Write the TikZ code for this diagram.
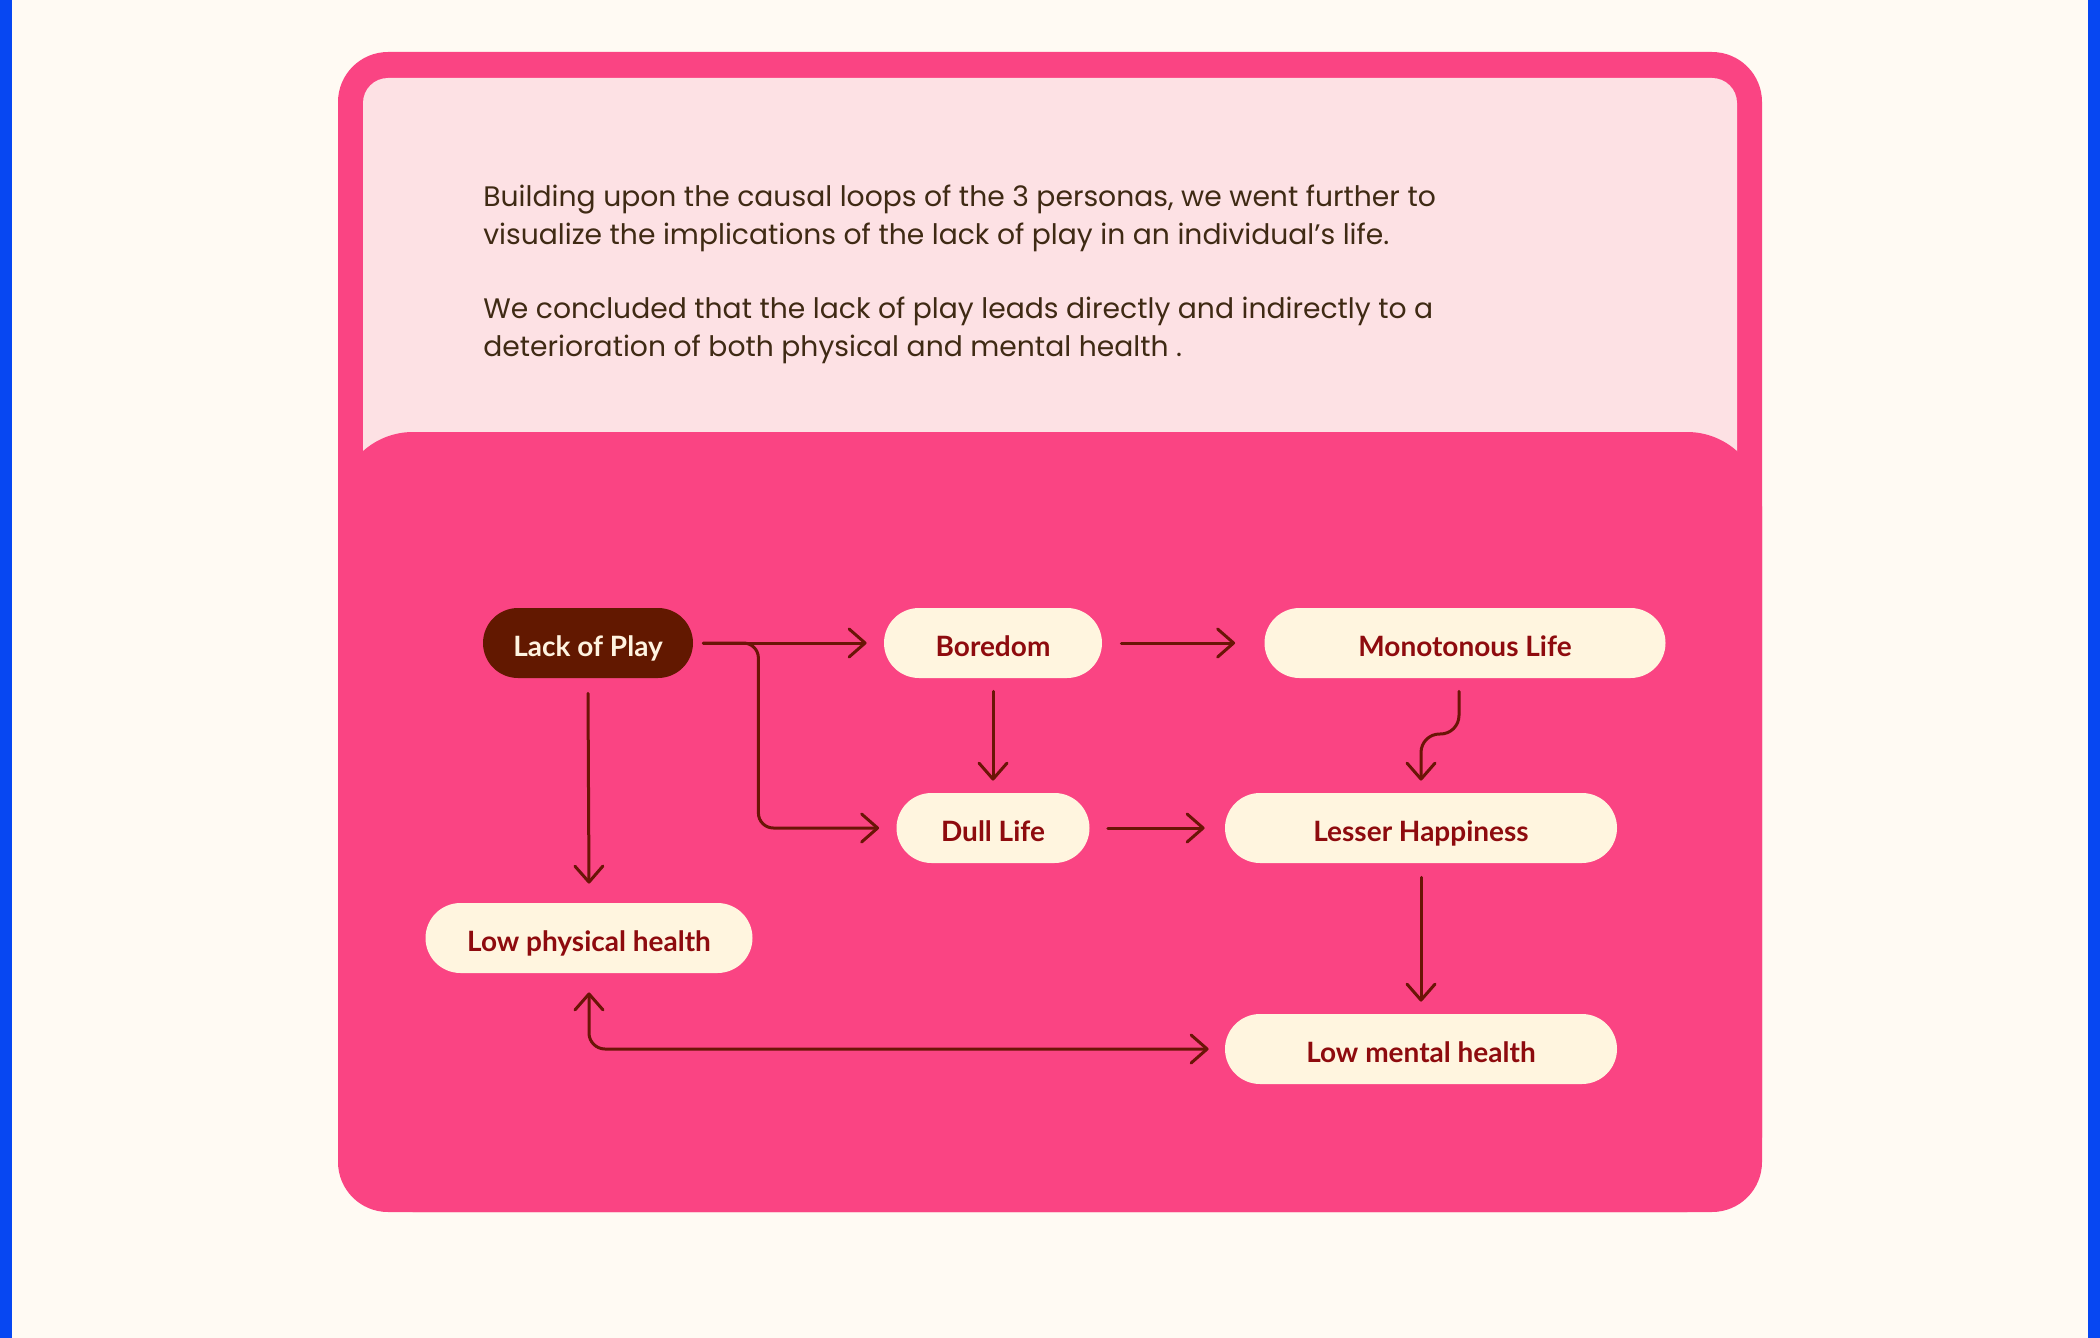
\documentclass[tikz,border=0pt]{standalone}
\usepackage{fontspec}
\setmainfont{Lato}
\newfontfamily\parafont{Poppins}
\newfontfamily\nodefont{Lato}[UprightFont=* Bold]
\usetikzlibrary{arrows.meta,calc}
\definecolor{bgc}{HTML}{FFFAF3}
\definecolor{bluec}{HTML}{0747F2}
\definecolor{pinkc}{HTML}{FA4483}
\definecolor{panelc}{HTML}{FDE1E4}
\definecolor{nodec}{HTML}{FFF5DF}
\definecolor{ntextc}{HTML}{8E0B0E}
\definecolor{lopc}{HTML}{621800}
\definecolor{loptextc}{HTML}{FFF3E0}
\definecolor{arrc}{HTML}{6A1506}
\definecolor{parac}{HTML}{3F2A14}
\tikzset{
  box/.style={rectangle, rounded corners=17.5pt, fill=nodec, text=ntextc,
    minimum height=35pt, inner sep=0pt, text height=13pt, text depth=0pt,
    font=\nodefont\fontsize{14pt}{16pt}\selectfont},
  darkbox/.style={box, fill=lopc, text=loptextc},
  paratext/.style={anchor=base west, inner sep=0pt, text=parac,
    font=\parafont\fontsize{14.1pt}{16pt}\selectfont},
  arr/.style={draw=arrc, line width=1.5pt, line cap=round, line join=round,
    -{Straight Barb[length=8pt,width=14pt,line cap=round,line join=round]}},
  dblarr/.style={arr, {Straight Barb[length=8pt,width=14pt,line cap=round,line join=round]}-{Straight Barb[length=8pt,width=14pt,line cap=round,line join=round]}}
}
\begin{document}
\begin{tikzpicture}[x=0.5pt,y=-0.5pt]
\useasboundingbox (0,0) rectangle (2100,1338);
\fill[bgc] (0,0) rectangle (2100,1338);
\fill[bluec] (0,0) rectangle (12,1338);
\fill[bluec] (2088,0) rectangle (2100,1338);
% card
\fill[pinkc, rounded corners=25pt] (338,52) rectangle (1762,1212);
\fill[panelc, rounded corners=12.5pt] (363,78) rectangle (1737,520);
\fill[pinkc, rounded corners=37.5pt] (338,432) rectangle (1762,1212);
% paragraph
\node[paratext] (t1) at (483,206) {Building upon the causal loops of the 3 personas, we went further to};
\node[paratext] (t2) at (483,244) {visualize the implications of the lack of play in an individual’s life.};
\node[paratext] (t3) at (483,318) {We concluded that the lack of play leads directly and indirectly to a};
\node[paratext] (t4) at (483,356) {deterioration of both physical and mental health .};
% nodes
\node[darkbox, minimum width=105pt] (lop) at (588,643) {Lack of Play};
\node[box, minimum width=109pt] (bor) at (993,643) {Boredom};
\node[box, minimum width=200.5pt] (mono) at (1465,643) {Monotonous Life};
\node[box, minimum width=96.5pt] (dull) at (993,828) {Dull Life};
\node[box, minimum width=196pt] (less) at (1421,828) {Lesser Happiness};
\node[box, minimum width=163.5pt] (lph) at (589,938) {Low physical health};
\node[box, minimum width=196pt] (lmh) at (1421,1049) {Low mental health};
% connectors
\draw[arr] ($(lop.east)+(10,0)$) -- ($(bor.west)+(-17,0)$);
\coordinate (br) at ($(lop.east)+(65,0)$);
\draw[arr, rounded corners=7.5pt] ($(lop.east)+(10,0)$) -- (br) -- (br |- dull.west) -- ($(dull.west)+(-17,0)$);
\draw[arr] ($(bor.south)+(0,13)$) -- ($(dull.north)+(0,-12)$);
\draw[arr] ($(bor.east)+(19,0)$) -- ($(mono.west)+(-29,0)$);
\draw[arr, rounded corners=9.5pt] ($(mono.south)+(-6,13)$) -- ($(mono.south)+(-6,56)$) -- ($(less.north)+(0,-59)$) -- ($(less.north)+(0,-12)$);
\draw[arr] ($(dull.east)+(18,0)$) -- ($(less.west)+(-20,0)$);
\draw[arr] ($(less.south)+(0,14)$) -- ($(lmh.north)+(0,-12)$);
\draw[arr] ($(lop.south)+(0,15)$) -- ($(lph.north)+(0,-19)$);
\draw[dblarr, rounded corners=8pt] ($(lph.south)+(0,19)$) |- ($(lmh.west)+(-16,0)$);
\end{tikzpicture}
\end{document}
